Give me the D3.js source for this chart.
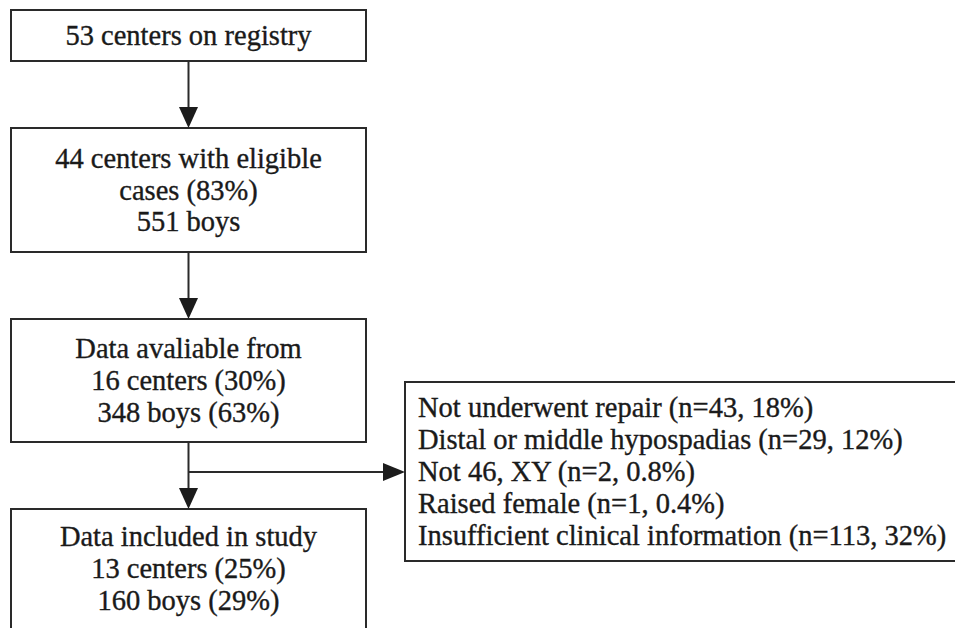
<!DOCTYPE html>
<html>
<head>
<meta charset="utf-8">
<script src="https://cdn.jsdelivr.net/npm/d3@7"></script>
<style>
  html, body { margin: 0; padding: 0; background: #fff; }
  svg { display: block; }
  text { font-family: "Liberation Serif", "Times New Roman", serif; fill: #1a1a1a; stroke: #1a1a1a; stroke-width: 0.35px; }
</style>
</head>
<body>
<svg id="chart" width="955" height="628"></svg>
<script>
// ---- data ----
const box1Lines = ["53 centers on registry"];
const box2Lines = ["44 centers with eligible", "cases (83%)", "551 boys"];
const box3Lines = ["Data avaliable from", "16 centers (30%)", "348 boys (63%)"];
const box4Lines = ["Data included in study", "13 centers (25%)", "160 boys (29%)"];
const excludedLines = [
  "Not underwent repair (n=43, 18%)",
  "Distal or middle hypospadias (n=29, 12%)",
  "Not 46, XY (n=2, 0.8%)",
  "Raised female (n=1, 0.4%)",
  "Insufficient clinical information (n=113, 32%)"
];

// ---- layout ----
const svg = d3.select("#chart");
const stroke = "#2a2a2a";
const fontSize = 28.5;
const lineH = 31.8;

const boxes = [
  { id: "b1", x0: 11, x1: 366, y0: 10, y1: 61, lines: box1Lines, align: "middle" },
  { id: "b2", x0: 11, x1: 366, y0: 128, y1: 252, lines: box2Lines, align: "middle" },
  { id: "b3", x0: 11, x1: 366, y0: 319, y1: 442, lines: box3Lines, align: "middle" },
  { id: "b4", x0: 11, x1: 366, y0: 509, y1: 630, lines: box4Lines, align: "middle", centerY: 568.5 },
  { id: "b5", x0: 405, x1: 958, y0: 382, y1: 561, lines: excludedLines, align: "start", textX: 418 }
];

const g = svg.append("g");

boxes.forEach(b => {
  g.append("rect")
    .attr("x", b.x0).attr("y", b.y0)
    .attr("width", b.x1 - b.x0).attr("height", b.y1 - b.y0)
    .attr("fill", "#fff").attr("stroke", stroke).attr("stroke-width", 2);
  const cy = b.centerY !== undefined ? b.centerY : (b.y0 + b.y1) / 2;
  const n = b.lines.length;
  const tx = b.align === "middle" ? (b.x0 + b.x1) / 2 : b.textX;
  g.selectAll(null).data(b.lines).enter().append("text")
    .attr("x", tx)
    .attr("y", (d, i) => cy + (i - (n - 1) / 2) * lineH + 9.5)
    .attr("text-anchor", b.align)
    .attr("font-size", fontSize)
    .text(d => d);
});

// arrows
const cx = (boxes[0].x0 + boxes[0].x1) / 2;
function vArrow(x, yStart, yTip) {
  g.append("line").attr("x1", x).attr("x2", x).attr("y1", yStart).attr("y2", yTip - 18)
    .attr("stroke", stroke).attr("stroke-width", 2);
  g.append("path")
    .attr("d", d3.line()([[x - 9.5, yTip - 21], [x + 9.5, yTip - 21], [x, yTip]]) + "Z")
    .attr("fill", "#1c1c1c");
}
function hArrow(y, xStart, xTip) {
  g.append("line").attr("x1", xStart).attr("x2", xTip - 18).attr("y1", y).attr("y2", y)
    .attr("stroke", stroke).attr("stroke-width", 2);
  g.append("path")
    .attr("d", d3.line()([[xTip - 22, y - 9], [xTip - 22, y + 9], [xTip, y]]) + "Z")
    .attr("fill", "#1c1c1c");
}
vArrow(cx, boxes[0].y1, boxes[1].y0);
vArrow(cx, boxes[1].y1, boxes[2].y0);
vArrow(cx, boxes[2].y1, boxes[3].y0);
hArrow(472, cx, boxes[4].x0);
</script>
</body>
</html>
